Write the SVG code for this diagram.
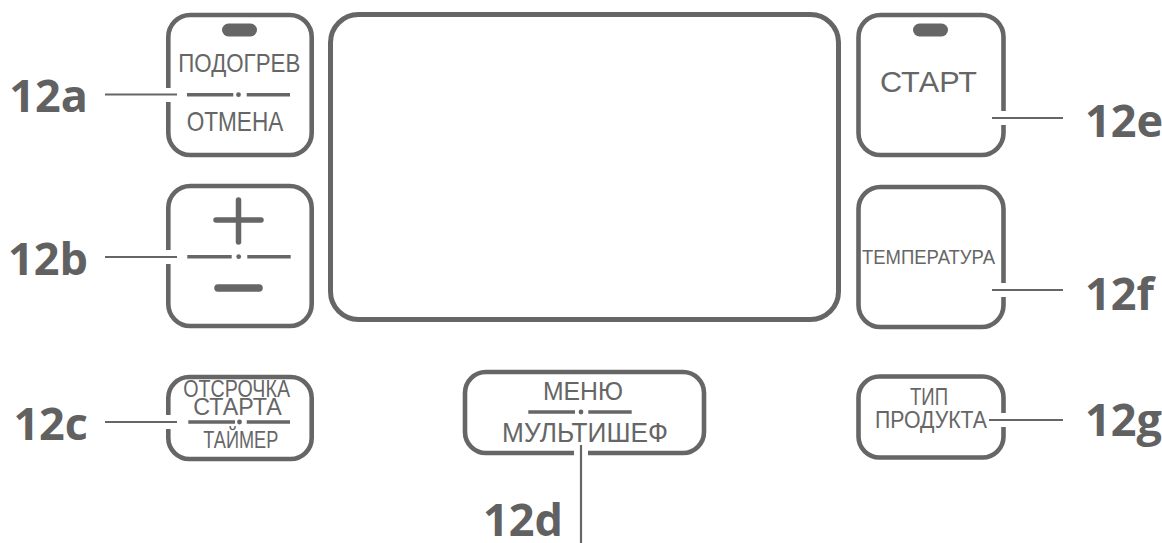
<svg xmlns="http://www.w3.org/2000/svg" width="1162" height="543" viewBox="0 0 1162 543">
<style>
.box{fill:none;stroke:#666;stroke-width:4.6}
.disp{fill:none;stroke:#666;stroke-width:5}
.led{fill:#666}
.t{font-family:"Liberation Sans",Arial,sans-serif;fill:#666}
.div{stroke:#666;stroke-width:3.6}
.dot{fill:#666}
.lbl{font-family:"Open Sans","DejaVu Sans",sans-serif;font-weight:700;font-size:45px;fill:#616161}
.ld{stroke:#666;stroke-width:2.2;fill:none}
.gap{fill:#fff}
.sym{stroke:#666;stroke-linecap:round}
</style>
<rect width="1162" height="543" fill="#fff"/>

<g id="display">
<rect class="disp" x="330.5" y="14.5" width="508" height="305" rx="28"/>
</g>

<g id="btn-12a">
<rect class="box" x="168.3" y="15" width="143.4" height="140" rx="22"/>
<rect class="led" x="222" y="23.5" width="35" height="13" rx="6.5"/>
<text class="t" x="178.3" y="72" font-size="26" textLength="122" lengthAdjust="spacingAndGlyphs">ПОДОГРЕВ</text>
<line class="div" x1="187" y1="94.7" x2="233.3" y2="94.7"/>
<circle class="dot" cx="238.5" cy="94.7" r="2.4"/>
<line class="div" x1="246.7" y1="94.7" x2="290" y2="94.7"/>
<text class="t" x="186.7" y="131" font-size="27.5" textLength="96.6" lengthAdjust="spacingAndGlyphs">ОТМЕНА</text>
</g>

<g id="btn-12b">
<rect class="box" x="168.3" y="186" width="143.4" height="140" rx="22"/>
<line class="sym" x1="216" y1="220" x2="261" y2="220" stroke-width="5.5"/>
<line class="sym" x1="238.5" y1="200" x2="238.5" y2="242" stroke-width="5.5"/>
<line class="div" x1="187.3" y1="256.7" x2="231.7" y2="256.7"/>
<circle class="dot" cx="238.7" cy="256.7" r="2.4"/>
<line class="div" x1="247.3" y1="256.7" x2="290.7" y2="256.7"/>
<line class="sym" x1="218" y1="288" x2="259" y2="288" stroke-width="7.5"/>
</g>

<g id="btn-12c">
<rect class="box" x="168.3" y="377" width="143.4" height="82" rx="21"/>
<text class="t" x="183.3" y="397" font-size="24.5" textLength="106.7" lengthAdjust="spacingAndGlyphs">ОТСРОЧКА</text>
<text class="t" x="193.3" y="415" font-size="24.5" textLength="88.4" lengthAdjust="spacingAndGlyphs">СТАРТА</text>
<line class="div" x1="188.3" y1="422" x2="235" y2="422"/>
<circle class="dot" cx="239.5" cy="422" r="2.4"/>
<line class="div" x1="246.7" y1="422" x2="290" y2="422"/>
<text class="t" x="203.3" y="448" font-size="24.5" textLength="75" lengthAdjust="spacingAndGlyphs">ТАЙМЕР</text>
</g>

<g id="btn-12d">
<rect class="box" x="465" y="372" width="239" height="81" rx="21"/>
<text class="t" x="543" y="400" font-size="26" textLength="80" lengthAdjust="spacingAndGlyphs">МЕНЮ</text>
<line class="div" x1="528.3" y1="412" x2="575" y2="412"/>
<circle class="dot" cx="581" cy="412" r="2.4"/>
<line class="div" x1="588.3" y1="412" x2="631.7" y2="412"/>
<text class="t" x="502" y="442" font-size="28.5" textLength="166" lengthAdjust="spacingAndGlyphs">МУЛЬТИШЕФ</text>
</g>

<g id="btn-12e">
<rect class="box" x="858.5" y="15" width="145" height="140" rx="22"/>
<rect class="led" x="913" y="23.5" width="35" height="13" rx="6.5"/>
<text class="t" x="880" y="92" font-size="29" textLength="97" lengthAdjust="spacingAndGlyphs">СТАРТ</text>
</g>

<g id="btn-12f">
<rect class="box" x="858.5" y="187" width="145" height="140" rx="22"/>
<text class="t" x="862" y="264" font-size="20.5" textLength="133" lengthAdjust="spacingAndGlyphs">ТЕМПЕРАТУРА</text>
</g>

<g id="btn-12g">
<rect class="box" x="858.5" y="376.5" width="145" height="81" rx="21"/>
<text class="t" x="910" y="405" font-size="24.5" textLength="38" lengthAdjust="spacingAndGlyphs">ТИП</text>
<text class="t" x="875" y="428" font-size="24" textLength="112" lengthAdjust="spacingAndGlyphs">ПРОДУКТА</text>
</g>

<g id="connectors">
<rect class="gap" x="164" y="88" width="9" height="14"/>
<line class="ld" x1="105" y1="94.5" x2="177" y2="94.5"/>
<rect class="gap" x="164" y="250" width="9" height="14"/>
<line class="ld" x1="105" y1="257" x2="177" y2="257"/>
<rect class="gap" x="164" y="415" width="9" height="14"/>
<line class="ld" x1="105" y1="422" x2="177" y2="422"/>
<rect class="gap" x="574" y="449" width="14" height="9"/>
<line class="ld" x1="581" y1="445" x2="581" y2="543"/>
<rect class="gap" x="999" y="111" width="10" height="14"/>
<line class="ld" x1="992" y1="118" x2="1063" y2="118"/>
<rect class="gap" x="999" y="283" width="10" height="14"/>
<line class="ld" x1="992" y1="290" x2="1063" y2="290"/>
<rect class="gap" x="999" y="413" width="10" height="14"/>
<line class="ld" x1="989" y1="420" x2="1063" y2="420"/>
</g>

<g id="labels">
<text class="lbl" x="88" y="112" text-anchor="end">12a</text>
<text class="lbl" x="88" y="275" text-anchor="end">12b</text>
<text class="lbl" x="88" y="440" text-anchor="end">12c</text>
<text class="lbl" x="563" y="536" text-anchor="end" font-size="44">12d</text>
<text class="lbl" x="1085" y="137">12e</text>
<text class="lbl" x="1085" y="310">12f</text>
<text class="lbl" x="1085" y="436">12g</text>
</g>
</svg>
